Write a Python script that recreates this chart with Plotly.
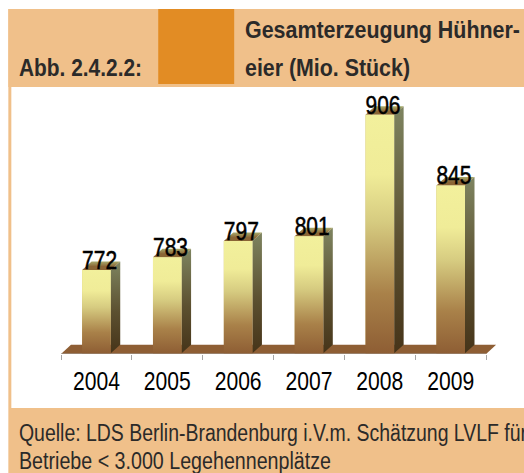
import json
import plotly.graph_objects as go

years = ["2004", "2005", "2006", "2007", "2008", "2009"]
values = [772, 783, 797, 801, 906, 845]

W, H = 524, 473
PLOT_L, PLOT_R, PLOT_T, PLOT_B = 60.7, 510, 88, 354
PX_PER_CAT = 70.9
X_MAX = -0.5 + (PLOT_R - PLOT_L) / PX_PER_CAT
PX_PER_UNIT = 1.157
Y_BASE = 700
HALF = 0.202
DX = 9.5 / PX_PER_CAT    # depth offset in x units
DY = 8.5 / PX_PER_UNIT   # depth offset in y units
y_min = Y_BASE - (PLOT_B - 353.2) / PX_PER_UNIT
y_max = Y_BASE + (353.2 - PLOT_T) / PX_PER_UNIT
xs = list(range(len(years)))

BAND = "#F0C08A"
ORANGE = "#E28C24"
TEXT = "#2B2A29"
FONT = "'Liberation Sans', Arial, sans-serif"

front_scale = [[0, "#8E5E34"], [0.25, "#A98149"], [0.55, "#D6CB80"], [0.75, "#F0EC98"], [1, "#F2F09C"]]
side_scale = [[0, "#463419"], [0.45, "#5C5030"], [1, "#7E8460"]]
top_scale = [[0, "#8A6535"], [0.4, "#8A6535"], [1, "#A9AB6C"]]

fig = go.Figure()

# floor
fig.add_trace(go.Scatter(
    x=[-0.5, -0.5 + 10 / PX_PER_CAT, 5.5 + 10 / PX_PER_CAT, 5.5, -0.5],
    y=[y_min, y_min + 9.3 / PX_PER_UNIT, y_min + 9.3 / PX_PER_UNIT, y_min, y_min],
    fill="toself", fillcolor="#8E5E34", mode="lines", line=dict(width=0),
    hoverinfo="skip", showlegend=False,
))
# axis line under the floor
fig.add_trace(go.Scatter(
    x=[-0.5, 5.5], y=[y_min, y_min], mode="lines", line=dict(width=1, color="#A6A6A6"),
    hoverinfo="skip", showlegend=False, cliponaxis=False,
))

# real bars for the front faces
fig.add_trace(go.Bar(
    x=xs, y=[v - Y_BASE for v in values], base=Y_BASE, width=2 * HALF,
    marker=dict(color="#C9B56F", line=dict(width=0)),
    hoverinfo="skip", showlegend=False,
))

for i, v in zip(xs, values):
    # side face
    fig.add_trace(go.Scatter(
        x=[i + HALF, i + HALF + DX, i + HALF + DX, i + HALF, i + HALF],
        y=[Y_BASE, Y_BASE + DY, v + DY, v, Y_BASE],
        fill="toself", mode="lines", line=dict(width=0),
        fillgradient=dict(type="vertical", colorscale=side_scale, start=Y_BASE, stop=v + DY),
        hoverinfo="skip", showlegend=False,
    ))
    # top face
    fig.add_trace(go.Scatter(
        x=[i - HALF, i + HALF, i + HALF + DX, i - HALF + DX, i - HALF],
        y=[v, v, v + DY, v + DY, v],
        fill="toself", mode="lines", line=dict(width=0),
        fillgradient=dict(type="vertical", colorscale=top_scale, start=v, stop=v + DY),
        hoverinfo="skip", showlegend=False,
    ))
    # front gradient over the bar
    fig.add_trace(go.Scatter(
        x=[i - HALF, i + HALF, i + HALF, i - HALF, i - HALF],
        y=[Y_BASE, Y_BASE, v, v, Y_BASE],
        fill="toself", mode="lines", line=dict(width=0),
        fillgradient=dict(type="vertical", colorscale=front_scale, start=Y_BASE, stop=v),
        hoverinfo="skip", showlegend=False,
    ))

# value labels
fig.add_trace(go.Scatter(
    x=[i + 0.045 for i in xs], y=[v - 5 / PX_PER_UNIT for v in values], mode="text",
    text=[str(v) for v in values], textposition="top center",
    textfont=dict(family=FONT, size=25, color="#000000"),
    hoverinfo="skip", showlegend=False, cliponaxis=False,
))

def fx(p): return (p - PLOT_L) / (PLOT_R - PLOT_L)
def fy(p): return (PLOT_B - p) / (PLOT_B - PLOT_T)

def rect(x0, y0, x1, y1, color):
    return dict(type="rect", xref="paper", yref="paper", layer="below",
                x0=fx(x0), x1=fx(x1), y0=fy(y1), y1=fy(y0),
                fillcolor=color, line=dict(width=0))

shapes = [
    rect(8, 9, W + 4, 87, BAND),
    rect(8, 9, 11, 408, BAND),
    rect(8, 408, W + 4, H + 4, BAND),
    rect(158, 9, 234, 84, ORANGE),
]

def label(x, y, text, size, bold=False, color=TEXT):
    return dict(xref="paper", yref="paper", x=fx(x), y=fy(y), xanchor="left", yanchor="middle",
                text=f"<b>{text}</b>" if bold else text, showarrow=False, align="left",
                font=dict(family=FONT, size=size, color=color))

annotations = [
    label(17, 68, "Abb. 2.4.2.2:", 23, True),
    label(243, 30, "Gesamterzeugung Hühner-", 24, True),
    label(243, 68, "eier (Mio. Stück)", 24, True),
    label(17, 433, "Quelle: LDS Berlin-Brandenburg i.V.m. Schätzung LVLF für", 23),
    label(17, 461, "Betriebe &lt; 3.000 Legehennenplätze", 23),
]

fig.update_layout(
    width=W, height=H, autosize=False,
    margin=dict(l=PLOT_L, r=W - PLOT_R, t=PLOT_T, b=H - PLOT_B, pad=0),
    paper_bgcolor="#FFFFFF", plot_bgcolor="rgba(0,0,0,0)",
    showlegend=False, shapes=shapes, annotations=annotations, barmode="overlay",
    xaxis=dict(
        type="linear", range=[-0.5, X_MAX], tickmode="array", tickvals=xs, ticktext=years,
        ticks="", showgrid=False, zeroline=False, showline=False,
        ticklabelstandoff=10,
        tickfont=dict(family=FONT, size=25, color="#000000"),
        minor=dict(tickmode="array", tickvals=[i - 0.5 for i in range(7)], ticks="outside",
                   ticklen=5, tickwidth=1, tickcolor="#A6A6A6", showgrid=False),
    ),
    yaxis=dict(range=[y_min, y_max], visible=False, showgrid=False, zeroline=False),
)

# horizontal narrowing of the installed font to the reference's condensed look
widths = {"Abb. 2.4.2.2:": 123, "Gesamterzeugung Hühner-": 275, "eier (Mio. Stück)": 165,
          "Quelle: LDS Berlin-Brandenburg i.V.m. Schätzung LVLF für": 508,
          "Betriebe < 3.000 Legehennenplätze": 312}
for y in years:
    widths[y] = 47
for v in values:
    widths[str(v)] = 35

post = """
document.body.style.margin='0';document.body.style.overflow='hidden';
var W=%s;
document.querySelectorAll('svg.main-svg text').forEach(function(t){
  var w=W[t.textContent];
  if(w){t.setAttribute('textLength',w);t.setAttribute('lengthAdjust','spacingAndGlyphs');}
});
document.querySelectorAll('.textpoint text').forEach(function(t){t.style.stroke='#000';t.style.strokeWidth='0.5px';});
""" % json.dumps(widths, ensure_ascii=False)

fig.write_html("out.html", post_script=post, config={"displayModeBar": False})
